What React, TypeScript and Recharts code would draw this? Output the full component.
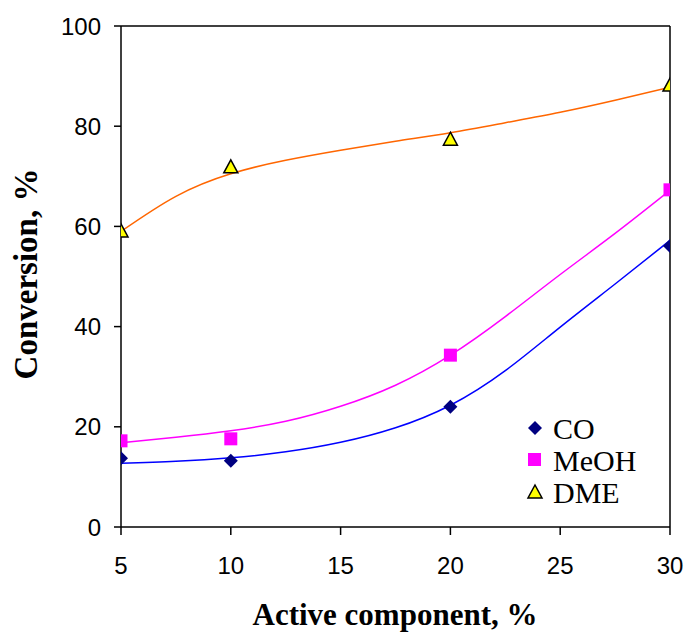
import React from "react";
import { ComposedChart, Line, Scatter, XAxis, YAxis, ReferenceLine } from "recharts";

const pointX = [5, 10, 20, 30];
const coPoints = [13.7, 13.2, 24.0, 56.1];
const meohPoints = [17.2, 17.6, 34.3, 67.3];
const dmePoints = [59.1, 71.9, 77.4, 88.2];

const curveX = [5, 7.5, 10, 12.5, 15, 17.5, 20, 22.5, 25, 27.5, 30];
const coCurve = [12.7, 13.1, 13.8, 15.0, 16.9, 19.8, 24.3, 31.2, 39.9, 48.5, 57.2];
const meohCurve = [16.8, 17.9, 19.2, 21.1, 24.1, 28.3, 34.3, 42.0, 50.4, 58.6, 67.2];
const dmeCurve = [59.0, 66.0, 70.5, 73.2, 75.2, 77.0, 78.7, 80.7, 82.8, 85.2, 87.8];

const xTicks = [5, 10, 15, 20, 25, 30];
const yTicks = [0, 20, 40, 60, 80, 100];

const seriesNames = ["CO", "MeOH", "DME"];

const toPts = (ys: number[]) => pointX.map((x, i) => ({ x, y: ys[i] }));
const toCurve = (ys: number[]) => curveX.map((x, i) => ({ x, y: ys[i] }));

const Diamond = (p: any) => {
  const { cx, cy } = p;
  const r = 7;
  return <path d={`M${cx},${cy - r}L${cx + r},${cy}L${cx},${cy + r}L${cx - r},${cy}Z`} fill="#000080" />;
};
const Square = (p: any) => {
  const { cx, cy } = p;
  const r = 6.5;
  return <rect x={cx - r} y={cy - r} width={2 * r} height={2 * r} fill="#FF00FF" />;
};
const Triangle = (p: any) => {
  const { cx, cy } = p;
  return (
    <path
      d={`M${cx},${cy - 7}L${cx + 7},${cy + 6}L${cx - 7},${cy + 6}Z`}
      fill="#FFFF00"
      stroke="#000"
      strokeWidth={1.5}
    />
  );
};

const tickStyle = { fontFamily: "Liberation Sans, Arial, sans-serif", fontSize: 24, fill: "#000" };

export default function App() {
  return (
    <div style={{ position: "absolute", left: 0, top: 0, width: 684, height: 632, background: "#fff" }}>
      <ComposedChart width={684} height={632} margin={{ top: 26, right: 14, bottom: 65, left: 21 }}>
        <XAxis
          type="number"
          dataKey="x"
          domain={[5, 30]}
          ticks={xTicks}
          tick={tickStyle}
          tickSize={8}
          tickMargin={22}
          stroke="#000"
          strokeWidth={1.5}
          height={40}
          allowDataOverflow
        />
        <YAxis
          type="number"
          dataKey="y"
          domain={[0, 100]}
          ticks={yTicks}
          tick={tickStyle}
          tickSize={7}
          tickMargin={13}
          stroke="#000"
          strokeWidth={1.5}
          width={100}
        />
        <ReferenceLine y={100} stroke="#000" strokeWidth={1.5} />
        <ReferenceLine x={30} stroke="#000" strokeWidth={1.5} />
        <Line data={toCurve(coCurve)} dataKey="y" type="natural" stroke="#0000FF" strokeWidth={1.5} dot={false} activeDot={false} isAnimationActive={false} />
        <Line data={toCurve(meohCurve)} dataKey="y" type="natural" stroke="#FF00FF" strokeWidth={1.5} dot={false} activeDot={false} isAnimationActive={false} />
        <Line data={toCurve(dmeCurve)} dataKey="y" type="natural" stroke="#FF6600" strokeWidth={1.5} dot={false} activeDot={false} isAnimationActive={false} />
        <Scatter name={seriesNames[0]} data={toPts(coPoints)} dataKey="y" shape={Diamond} isAnimationActive={false} />
        <Scatter name={seriesNames[1]} data={toPts(meohPoints)} dataKey="y" shape={Square} isAnimationActive={false} />
        <Scatter name={seriesNames[2]} data={toPts(dmePoints)} dataKey="y" shape={Triangle} isAnimationActive={false} />
      </ComposedChart>
      <div
        style={{
          position: "absolute",
          left: 0,
          width: 684,
          top: 597,
          textAlign: "center",
          paddingLeft: 106,
          boxSizing: "border-box",
          fontFamily: "Liberation Serif, Times New Roman, serif",
          fontWeight: "bold",
          fontSize: 31,
          lineHeight: "36px",
          whiteSpace: "nowrap",
        }}
      >
        Active component, %
      </div>
      <div
        style={{
          position: "absolute",
          left: 26,
          top: 274,
          transform: "translate(-50%, -50%) rotate(-90deg)",
          fontFamily: "Liberation Serif, Times New Roman, serif",
          fontWeight: "bold",
          fontSize: 33,
          lineHeight: "36px",
          whiteSpace: "nowrap",
        }}
      >
        Conversion, %
      </div>
      <svg style={{ position: "absolute", left: 520, top: 410 }} width={140} height={100}>
        <path d="M15,11L22,18L15,25L8,18Z" fill="#000080" />
        <rect x={8} y={43} width={13} height={13} fill="#FF00FF" />
        <path d="M15,75L22,88L8,88Z" fill="#FFFF00" stroke="#000" strokeWidth={1.5} />
        <text x={33} y={29} fontFamily="Liberation Serif, Times New Roman, serif" fontSize={30} fill="#000">{seriesNames[0]}</text>
        <text x={33} y={61} fontFamily="Liberation Serif, Times New Roman, serif" fontSize={30} fill="#000">{seriesNames[1]}</text>
        <text x={33} y={93} fontFamily="Liberation Serif, Times New Roman, serif" fontSize={30} fill="#000">{seriesNames[2]}</text>
      </svg>
    </div>
  );
}
